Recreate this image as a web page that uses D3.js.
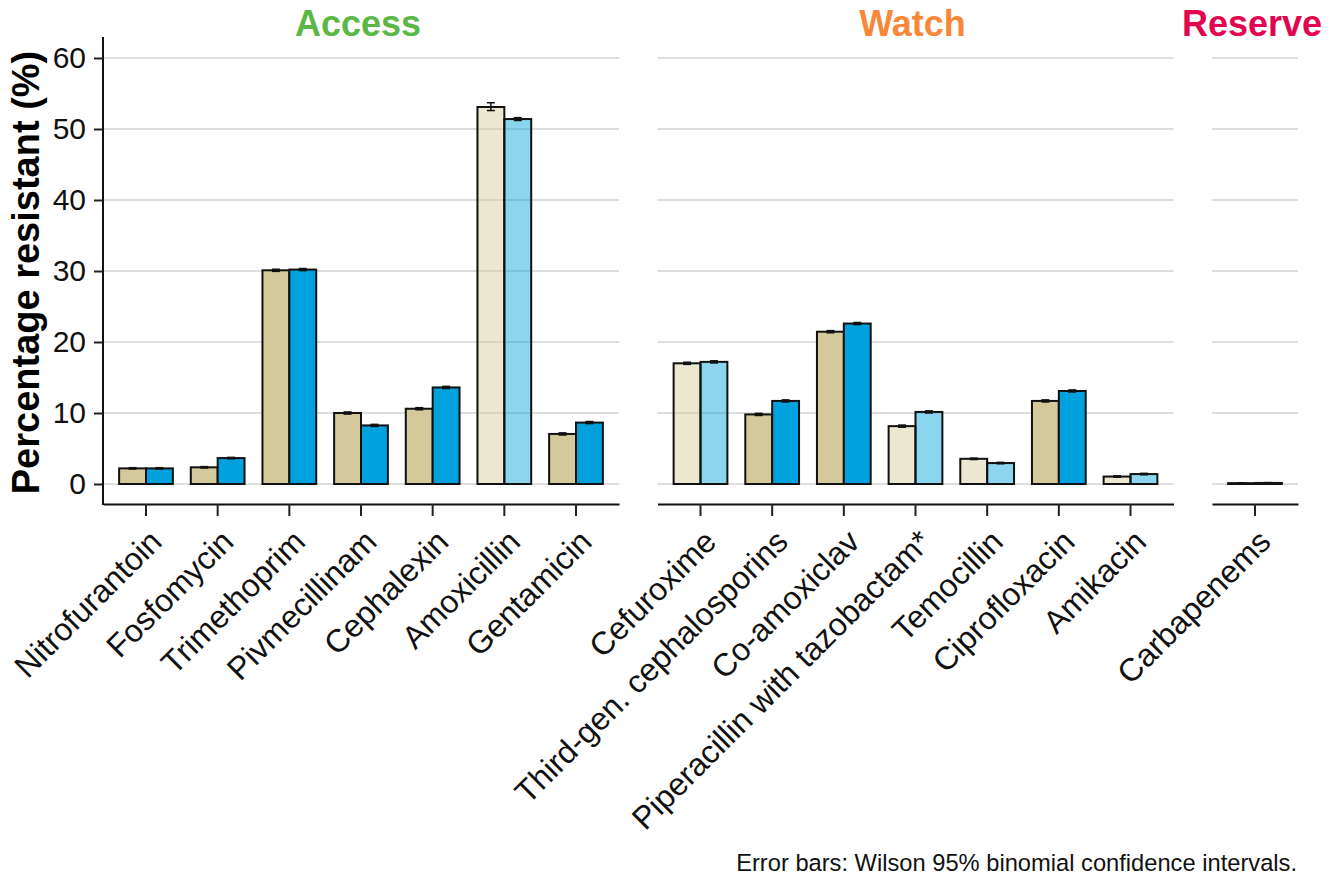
<!DOCTYPE html>
<html>
<head>
<meta charset="utf-8">
<title>Percentage resistant</title>
<script src="https://d3js.org/d3.v7.min.js"></script>
<style>
  body { margin: 0; background: #fff; }
  svg text { font-family: "Liberation Sans", Arial, sans-serif; }
</style>
</head>
<body>
<div id="chart"></div>
<script>
// data
const groups = ["Access", "Watch", "Reserve"];
const groupColors = ["#5BB846", "#F7883A", "#E2064F"];
const drugs = [
  ["Nitrofurantoin", "Fosfomycin", "Trimethoprim", "Pivmecillinam", "Cephalexin", "Amoxicillin", "Gentamicin"],
  ["Cefuroxime", "Third-gen. cephalosporins", "Co-amoxiclav", "Piperacillin with tazobactam*", "Temocillin", "Ciprofloxacin", "Amikacin"],
  ["Carbapenems"]
];
// faded bars (drawn with transparency)
const faded = ["Amoxicillin", "Cefuroxime", "Piperacillin with tazobactam*", "Temocillin", "Amikacin"];

// series A (beige) and series B (blue), in order of the drugs above
const valuesA = [2.2, 2.35, 30.1, 10.0, 10.6, 53.1, 7.05, 17.0, 9.8, 21.45, 8.15, 3.55, 11.7, 1.05, 0.12];
const lowA    = [2.1, 2.25, 29.95, 9.85, 10.45, 52.6, 6.9, 16.85, 9.65, 21.3, 8.0, 3.45, 11.55, 0.95, 0.08];
const highA   = [2.3, 2.45, 30.25, 10.15, 10.75, 53.7, 7.2, 17.15, 9.95, 21.6, 8.3, 3.65, 11.85, 1.15, 0.16];
const valuesB = [2.2, 3.65, 30.2, 8.25, 13.6, 51.4, 8.65, 17.2, 11.7, 22.6, 10.15, 2.95, 13.1, 1.4, 0.15];
const lowB    = [2.1, 3.55, 30.05, 8.1, 13.45, 51.2, 8.5, 17.05, 11.55, 22.45, 10.0, 2.85, 12.95, 1.3, 0.1];
const highB   = [2.3, 3.75, 30.35, 8.4, 13.75, 51.6, 8.8, 17.35, 11.85, 22.75, 10.3, 3.05, 13.25, 1.5, 0.2];
const yTicks = [0, 10, 20, 30, 40, 50, 60];
const seriesColors = ["#D4C99A", "#00A1DC"];

const W = 1339, H = 876;
const svg = d3.select("#chart").append("svg").attr("width", W).attr("height", H);

const left = 103, right = 1298, gap = 38.5;
const panelTop = 37, axisY = 504;
const units = drugs.map(d => d.length + 0.2);
const unit = (right - left - gap * (drugs.length - 1)) / d3.sum(units);

const y = d3.scaleLinear().domain([0, 60]).range([484, 58]);

// flat table built from arrays
let k = 0;
const rows = [];
drugs.forEach((list, g) => list.forEach(name => {
  rows.push({ g, name, a: valuesA[k], la: lowA[k], ha: highA[k], b: valuesB[k], lb: lowB[k], hb: highB[k] });
  k++;
}));

let x0 = left;
drugs.forEach((list, g) => {
  const pw = units[g] * unit;
  const x = d3.scaleBand().domain(list).range([x0, x0 + pw]).paddingInner(0).paddingOuter(0.1);
  const sub = d3.scaleBand().domain([0, 1]).range([0, x.bandwidth() * 0.75]);
  const off = x.bandwidth() * 0.125;
  const panel = svg.append("g");

  // gridlines
  panel.selectAll(".grid").data(yTicks).join("line")
    .attr("x1", x0).attr("x2", x0 + pw)
    .attr("y1", d => y(d)).attr("y2", d => y(d))
    .attr("stroke", "#DEDEDE").attr("stroke-width", 2);

  const data = rows.filter(r => r.g === g);
  const bars = [];
  data.forEach(r => {
    const fade = faded.includes(r.name);
    bars.push({ name: r.name, s: 0, v: r.a, lo: r.la, hi: r.ha, fade });
    bars.push({ name: r.name, s: 1, v: r.b, lo: r.lb, hi: r.hb, fade });
  });

  panel.selectAll(".bar").data(bars).join("rect")
    .attr("x", d => x(d.name) + off + sub(d.s))
    .attr("width", sub.bandwidth())
    .attr("y", d => y(d.v))
    .attr("height", d => y(0) - y(d.v))
    .attr("fill", d => seriesColors[d.s])
    .attr("fill-opacity", d => d.fade ? 0.45 : 1)
    .attr("stroke", "#111").attr("stroke-width", 2);

  // error bars
  const cap = 4;
  const eb = panel.selectAll(".err").data(bars).join("g")
    .attr("transform", d => `translate(${x(d.name) + off + sub(d.s) + sub.bandwidth() / 2},0)`);
  eb.append("line").attr("y1", d => y(d.lo)).attr("y2", d => y(d.hi))
    .attr("stroke", "#111").attr("stroke-width", 1.5);
  eb.append("line").attr("x1", -cap).attr("x2", cap).attr("y1", d => y(d.hi)).attr("y2", d => y(d.hi))
    .attr("stroke", "#111").attr("stroke-width", 1.5);
  eb.append("line").attr("x1", -cap).attr("x2", cap).attr("y1", d => y(d.lo)).attr("y2", d => y(d.lo))
    .attr("stroke", "#111").attr("stroke-width", 1.5);

  // x axis
  const xAxis = panel.append("g").attr("transform", `translate(0,${axisY})`)
    .call(d3.axisBottom(x).tickSize(12).tickSizeOuter(0));
  xAxis.select(".domain").attr("stroke", "#111").attr("stroke-width", 2);
  xAxis.selectAll(".tick line").attr("stroke", "#222").attr("stroke-width", 2);
  xAxis.selectAll(".tick text")
    .attr("font-size", 32).attr("fill", "#111")
    .attr("text-anchor", "end")
    .attr("x", -7).attr("y", 44).attr("dy", 0)
    .attr("transform", "rotate(-45, 0, 12)");

  // group title
  svg.append("text").attr("x", x0 + pw / 2 - 3).attr("y", 36)
    .attr("text-anchor", "middle").attr("font-size", 36).attr("font-weight", "bold")
    .attr("fill", groupColors[g]).text(groups[g]);

  x0 += pw + gap;
});

// y axis
const yAxis = svg.append("g").attr("transform", `translate(${left},0)`)
  .call(d3.axisLeft(y).tickValues(yTicks).tickSize(9).tickPadding(8).tickSizeOuter(0));
yAxis.select(".domain").attr("d", `M0,${panelTop}V${axisY + 1}`).attr("stroke", "#111").attr("stroke-width", 2);
yAxis.selectAll(".tick line").attr("stroke", "#222").attr("stroke-width", 2);
yAxis.selectAll(".tick text").attr("font-size", 30).attr("fill", "#111");

svg.append("text")
  .attr("transform", `translate(39,${(50 + 495) / 2}) rotate(-90)`)
  .attr("text-anchor", "middle").attr("font-size", 38).attr("font-weight", "bold")
  .attr("fill", "#000").text("Percentage resistant (%)");

svg.append("text").attr("x", 1297).attr("y", 871).attr("text-anchor", "end")
  .attr("font-size", 23.7).attr("fill", "#111")
  .text("Error bars: Wilson 95% binomial confidence intervals.");
</script>
</body>
</html>
